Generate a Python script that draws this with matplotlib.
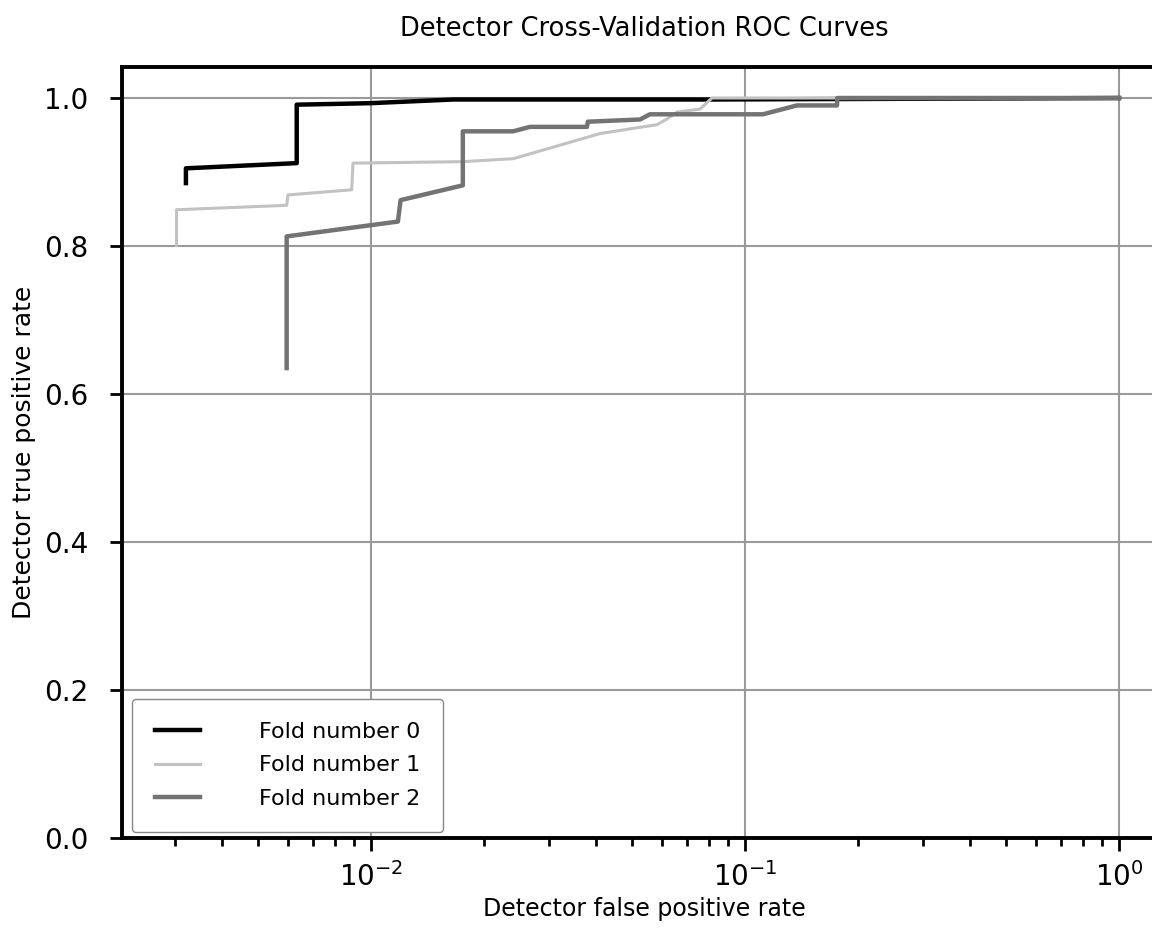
import matplotlib.pyplot as plt

# ROC points (false positive rate, true positive rate)
fpr_0 = [0.00320, 0.00320, 0.00633, 0.00633, 0.00994, 0.0166, 0.0811, 1.0]
tpr_0 = [0.885, 0.905, 0.912, 0.991, 0.993, 0.998, 0.998, 1.0]

fpr_1 = [0.00302, 0.00302, 0.00595, 0.00600, 0.00888, 0.00895, 0.0176, 0.0240,
         0.0410, 0.0582, 0.0620, 0.0658, 0.0758, 0.0816, 1.0]
tpr_1 = [0.801, 0.849, 0.855, 0.869, 0.876, 0.912, 0.914, 0.918,
         0.952, 0.964, 0.972, 0.981, 0.985, 1.0, 1.0]

fpr_2 = [0.00595, 0.00595, 0.00994, 0.0118, 0.0120, 0.0176, 0.0176, 0.0240,
         0.0266, 0.0378, 0.0380, 0.0524, 0.0557, 0.1117, 0.1377, 0.1762, 0.1765, 1.0]
tpr_2 = [0.635, 0.813, 0.828, 0.833, 0.862, 0.882, 0.955, 0.955,
         0.961, 0.961, 0.968, 0.971, 0.978, 0.978, 0.990, 0.990, 1.0, 1.0]

labels = ["Fold number 0", "Fold number 1", "Fold number 2"]
colors = ["#000000", "#c2c2c2", "#737373"]
widths = [3.2, 2.2, 3.2]

plt.rcParams['font.family'] = ['DejaVu Sans']

fig = plt.figure(figsize=(11.52, 9.31), dpi=100)
ax = fig.add_axes([0.1059, 0.0999, 0.9063, 0.8282])

for fpr, tpr, lab, c, w in zip([fpr_0, fpr_1, fpr_2], [tpr_0, tpr_1, tpr_2],
                               labels, colors, widths):
    ax.plot(fpr, tpr, color=c, lw=w, label=lab)

ax.set_xscale('log')
ax.set_xlim(0.002159, 1.336)
ax.set_ylim(0.0, 1.042)
ax.set_yticks([0.0, 0.2, 0.4, 0.6, 0.8, 1.0])
ax.grid(True, which='major', color='#9a9a9a', lw=1.5)
ax.set_axisbelow(True)

for s in ax.spines.values():
    s.set_linewidth(2.8)

ax.tick_params(axis='both', which='major', length=9, width=2, labelsize=20,
               direction='out')
ax.tick_params(axis='x', which='minor', length=6, width=2, direction='out')
ax.tick_params(axis='x', which='major', pad=8)
ax.tick_params(axis='y', which='major', pad=15)

ax.set_title("Detector Cross-Validation ROC Curves", fontsize=18.5, pad=22)
ax.set_xlabel("Detector false positive rate", fontsize=17, labelpad=4)
ax.set_ylabel("Detector true positive rate", fontsize=18, labelpad=6)

ax.legend(loc='lower left', fontsize=16, handlelength=2.0, handletextpad=2.65,
          labelspacing=0.6, borderpad=1.05, borderaxespad=0,
          edgecolor='#888888', framealpha=1.0,
          bbox_to_anchor=(0.0096, 0.0078))

fig.savefig("out.png", dpi=100)
